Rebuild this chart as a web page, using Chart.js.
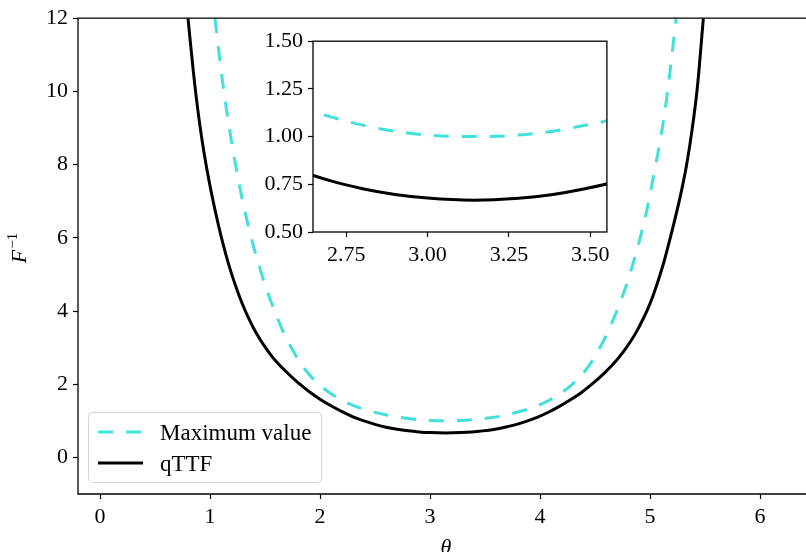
<!DOCTYPE html>
<html>
<head>
<meta charset="utf-8">
<script src="https://cdn.jsdelivr.net/npm/chart.js@4.4.1/dist/chart.umd.min.js"></script>
<style>
  html, body { margin: 0; padding: 0; background: #fff; }
  #wrap { position: relative; width: 806px; height: 552px; overflow: hidden; }
  #mainChart { position: absolute; left: 0; top: 0; }
  #insetChart { position: absolute; left: 245px; top: 23px; }
</style>
</head>
<body>
<div id="wrap">
  <canvas id="mainChart" width="806" height="552"></canvas>
  <canvas id="insetChart" width="370" height="252"></canvas>
</div>
<script>
// Values (theta, F^-1)
const maxTheta = [1.045, 1.10, 1.15, 1.20, 1.25, 1.30, 1.35, 1.40, 1.45, 1.50, 1.55, 1.60, 1.65, 1.70, 1.75,
  1.80, 1.90, 2.00, 2.10, 2.20, 2.30, 2.40, 2.50, 2.60, 2.70, 2.80, 2.90, 3.00, 3.14,
  3.28, 3.38, 3.48, 3.58, 3.68, 3.78, 3.88, 3.98, 4.08, 4.18, 4.28, 4.38, 4.48,
  4.53, 4.58, 4.63, 4.68, 4.73, 4.78, 4.83, 4.88, 4.93, 4.98, 5.03, 5.08, 5.13, 5.18, 5.238];
const maxValues = [12.0, 10.6, 9.5, 8.55, 7.7, 6.95, 6.3, 5.72, 5.2, 4.72, 4.29, 3.9, 3.54, 3.22, 2.94,
  2.68, 2.27, 1.97, 1.74, 1.56, 1.42, 1.315, 1.23, 1.16, 1.105, 1.06, 1.028, 1.008, 1.0,
  1.008, 1.027, 1.058, 1.095, 1.15, 1.225, 1.31, 1.415, 1.555, 1.735, 1.96, 2.26, 2.66,
  2.92, 3.2, 3.52, 3.87, 4.25, 4.66, 5.14, 5.66, 6.23, 6.88, 7.65, 8.45, 9.35, 10.5, 12.0];

const qttfTheta = [0.80, 0.85, 0.90, 0.95, 1.00, 1.05, 1.10, 1.15, 1.20, 1.25, 1.30, 1.35, 1.40, 1.45,
  1.50, 1.55, 1.60, 1.70, 1.80, 1.90, 2.00, 2.10, 2.20, 2.30, 2.40, 2.50, 2.60, 2.70, 2.80, 2.90, 3.00, 3.14,
  3.28, 3.38, 3.48, 3.58, 3.68, 3.78, 3.88, 3.98, 4.08, 4.18, 4.28, 4.38, 4.48, 4.58, 4.68,
  4.73, 4.78, 4.83, 4.88, 4.93, 4.98, 5.03, 5.08, 5.13, 5.18, 5.23, 5.28, 5.33, 5.38, 5.43, 5.485];
const qttfValues = [12.0, 10.5, 9.25, 8.25, 7.42, 6.7, 6.05, 5.48, 4.98, 4.54, 4.15, 3.81, 3.51, 3.25,
  3.02, 2.81, 2.63, 2.32, 2.04, 1.80, 1.59, 1.41, 1.25, 1.11, 0.996, 0.901, 0.826, 0.769, 0.727, 0.697, 0.678, 0.667,
  0.677, 0.695, 0.725, 0.765, 0.822, 0.895, 0.99, 1.10, 1.24, 1.40, 1.58, 1.78, 2.02, 2.29, 2.60,
  2.78, 2.98, 3.2, 3.45, 3.74, 4.06, 4.44, 4.88, 5.38, 5.95, 6.55, 7.2, 7.95, 8.9, 10.1, 12.0];

const xTicks = [0, 1, 2, 3, 4, 5, 6];
const yTicks = [0, 2, 4, 6, 8, 10, 12];
const insetXTicks = [2.75, 3.00, 3.25, 3.50];
const insetYTicks = [0.50, 0.75, 1.00, 1.25, 1.50];

const FONT = "'Liberation Serif', 'Times New Roman', serif";
const CYAN = '#40e0dc';

function toPoints(xs, ys) {
  return xs.map((x, i) => ({ x: x, y: ys[i] }));
}

function makeDatasets() {
  return [
    {
      label: 'Maximum value',
      data: toPoints(maxTheta, maxValues),
      borderColor: CYAN,
      borderWidth: 3,
      borderDash: [15, 13],
      pointRadius: 0,
      cubicInterpolationMode: 'monotone',
      fill: false
    },
    {
      label: 'qTTF',
      data: toPoints(qttfTheta, qttfValues),
      borderColor: '#000',
      borderWidth: 3,
      pointRadius: 0,
      cubicInterpolationMode: 'monotone',
      fill: false
    }
  ];
}

function axis(min, max, ticks, fmt) {
  return {
    type: 'linear',
    min: min,
    max: max,
    afterBuildTicks: s => { s.ticks = ticks.map(v => ({ value: v })); },
    grid: { drawOnChartArea: false, drawTicks: true, tickLength: 5, tickColor: '#000', tickWidth: 1.2 },
    border: { display: false },
    ticks: {
      color: '#000',
      font: { family: FONT, size: 22 },
      padding: 5,
      maxRotation: 0,
      autoSkip: false,
      callback: fmt
    }
  };
}

// spines, legend and axis labels of the main axes
const mainDecor = {
  id: 'mainDecor',
  afterDraw(chart) {
    const { ctx, chartArea: a } = chart;
    ctx.save();
    ctx.strokeStyle = '#000';
    ctx.lineWidth = 1.3;
    ctx.beginPath();
    ctx.moveTo(806, a.top);
    ctx.lineTo(a.left, a.top);
    ctx.lineTo(a.left, a.bottom);
    ctx.lineTo(806, a.bottom);
    ctx.stroke();

    // legend
    ctx.beginPath();
    ctx.roundRect(88.5, 412.5, 233, 70, 4);
    ctx.fillStyle = 'rgba(255,255,255,0.8)';
    ctx.fill();
    ctx.strokeStyle = '#d4d4d4';
    ctx.lineWidth = 1;
    ctx.stroke();

    ctx.lineWidth = 3;
    ctx.strokeStyle = CYAN;
    ctx.setLineDash([15, 13]);
    ctx.beginPath();
    ctx.moveTo(98, 432);
    ctx.lineTo(143, 432);
    ctx.stroke();
    ctx.setLineDash([]);
    ctx.strokeStyle = '#000';
    ctx.beginPath();
    ctx.moveTo(98, 463);
    ctx.lineTo(143, 463);
    ctx.stroke();

    ctx.fillStyle = '#000';
    ctx.font = '23px ' + FONT;
    ctx.textBaseline = 'alphabetic';
    ctx.textAlign = 'left';
    ctx.fillText('Maximum value', 160, 440);
    ctx.fillText('qTTF', 160, 471);

    // x label
    ctx.font = 'italic 22px ' + FONT;
    ctx.textAlign = 'center';
    ctx.fillText('θ', 446, 554);

    // y label F^{-1}
    ctx.translate(26, 248);
    ctx.rotate(-Math.PI / 2);
    ctx.textAlign = 'left';
    ctx.font = 'italic 22px ' + FONT;
    const wF = ctx.measureText('F').width;
    ctx.font = '15px ' + FONT;
    const wS = ctx.measureText('−1').width;
    const x0 = -(wF + wS + 1) / 2;
    ctx.font = 'italic 22px ' + FONT;
    ctx.fillText('F', x0, 0);
    ctx.font = '15px ' + FONT;
    ctx.fillText('−1', x0 + wF + 1, -9);
    ctx.restore();
  }
};

// white face and full frame of the inset axes
const insetFrame = {
  id: 'insetFrame',
  beforeDraw(chart) {
    const { ctx, chartArea: a } = chart;
    ctx.save();
    ctx.fillStyle = '#fff';
    ctx.fillRect(a.left, a.top, a.right - a.left, a.bottom - a.top);
    ctx.restore();
  },
  afterDraw(chart) {
    const { ctx, chartArea: a } = chart;
    ctx.save();
    ctx.strokeStyle = '#000';
    ctx.lineWidth = 1.3;
    ctx.strokeRect(a.left, a.top, a.right - a.left, a.bottom - a.top);
    ctx.restore();
  }
};

const mainX = axis(-0.2, 6.418, xTicks, v => String(v));
mainX.afterFit = s => { s.height = 58; };
const mainY = axis(-1, 12, yTicks, v => String(v));
mainY.afterFit = s => { s.width = 78; };

new Chart(document.getElementById('mainChart'), {
  type: 'line',
  data: { datasets: makeDatasets() },
  options: {
    responsive: false,
    animation: false,
    layout: { padding: { top: 18, right: 0, left: 0, bottom: 0 } },
    plugins: { legend: { display: false }, tooltip: { enabled: false } },
    scales: { x: mainX, y: mainY }
  },
  plugins: [mainDecor]
});

const insetX = axis(2.648, 3.551, insetXTicks, v => v.toFixed(2));
insetX.afterFit = s => { s.height = 43; };
const insetY = axis(0.5, 1.5, insetYTicks, v => v.toFixed(2));
insetY.afterFit = s => { s.width = 68; };

new Chart(document.getElementById('insetChart'), {
  type: 'line',
  data: { datasets: makeDatasets() },
  options: {
    responsive: false,
    animation: false,
    layout: { padding: { top: 6, right: 8, left: 0, bottom: 0 } },
    plugins: { legend: { display: false }, tooltip: { enabled: false } },
    scales: { x: insetX, y: insetY }
  },
  plugins: [insetFrame]
});
</script>
</body>
</html>
